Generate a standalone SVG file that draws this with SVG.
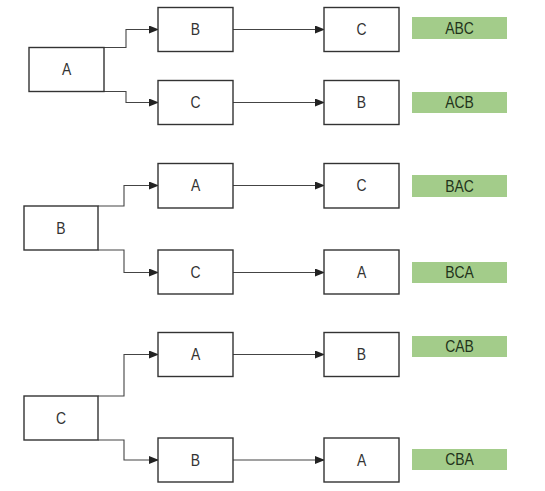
<svg xmlns="http://www.w3.org/2000/svg" width="545" height="491" viewBox="0 0 545 491">
<defs>
<style>
.box{fill:#fff;stroke:#333;stroke-width:1.4}
.lbl{fill:#a3cc8a}
.t,.g{font-family:"Liberation Sans",Arial,sans-serif;font-size:17px;text-anchor:middle;transform-box:fill-box;transform-origin:center;transform:scaleX(0.82)}
.t{fill:#333}
.g{fill:#22331a}
.c{fill:none;stroke:#444;stroke-width:1.1;marker-end:url(#ah)}
</style>
<marker id="ah" markerWidth="10" markerHeight="8" refX="9" refY="4" orient="auto" markerUnits="userSpaceOnUse">
<path d="M0,0 L10,4 L0,8 Z" fill="#222"/>
</marker>
</defs>
<rect width="545" height="491" fill="#fff"/>
<g id="connectors">
<path class="c" d="M104,47.5 H126 V29.5 H158"/>
<path class="c" d="M104,91.5 H126 V102.5 H158"/>
<path class="c" d="M233,29.5 H324"/>
<path class="c" d="M233,102.5 H324"/>
<path class="c" d="M98,206 H124 V185.5 H158"/>
<path class="c" d="M98,250 H124 V272.5 H158"/>
<path class="c" d="M233,185.5 H324"/>
<path class="c" d="M233,272.5 H324"/>
<path class="c" d="M98,396 H124 V354.5 H158"/>
<path class="c" d="M98,440 H124 V460 H158"/>
<path class="c" d="M233,354.5 H324"/>
<path class="c" d="M233,460 H324"/>
</g>
<g id="n1-A"><rect class="box" x="29" y="47.5" width="75" height="44"/><text class="t" x="66.5" y="75.5">A</text></g>
<g id="n1-B"><rect class="box" x="158" y="7.5" width="75" height="44"/><text class="t" x="195.5" y="35.5">B</text></g>
<g id="n1-C"><rect class="box" x="158" y="80.5" width="75" height="44"/><text class="t" x="195.5" y="108.5">C</text></g>
<g id="n1-BC"><rect class="box" x="324" y="7.5" width="75" height="44"/><text class="t" x="361.5" y="35.5">C</text></g>
<g id="n1-CB"><rect class="box" x="324" y="80.5" width="75" height="44"/><text class="t" x="361.5" y="108.5">B</text></g>
<g id="r-ABC"><rect class="lbl" x="412" y="17" width="95" height="22"/><text class="g" x="459.5" y="34">ABC</text></g>
<g id="r-ACB"><rect class="lbl" x="412" y="92" width="95" height="21"/><text class="g" x="459.5" y="108.5">ACB</text></g>

<g id="n2-B"><rect class="box" x="24" y="206" width="74" height="44"/><text class="t" x="61" y="234">B</text></g>
<g id="n2-A"><rect class="box" x="158" y="163.5" width="75" height="44.5"/><text class="t" x="195.5" y="191.5">A</text></g>
<g id="n2-C"><rect class="box" x="158" y="250" width="75" height="44"/><text class="t" x="195.5" y="278">C</text></g>
<g id="n2-AC"><rect class="box" x="324" y="163.5" width="75" height="44.5"/><text class="t" x="361.5" y="191.5">C</text></g>
<g id="n2-CA"><rect class="box" x="324" y="250" width="75" height="44"/><text class="t" x="361.5" y="278">A</text></g>
<g id="r-BAC"><rect class="lbl" x="412" y="175" width="95" height="22"/><text class="g" x="459.5" y="192">BAC</text></g>
<g id="r-BCA"><rect class="lbl" x="412" y="262" width="95" height="21"/><text class="g" x="459.5" y="278.5">BCA</text></g>

<g id="n3-C"><rect class="box" x="24" y="396" width="74" height="44"/><text class="t" x="61" y="424">C</text></g>
<g id="n3-A"><rect class="box" x="158" y="332.5" width="75" height="44"/><text class="t" x="195.5" y="360.5">A</text></g>
<g id="n3-B"><rect class="box" x="158" y="438" width="75" height="44"/><text class="t" x="195.5" y="466">B</text></g>
<g id="n3-AB"><rect class="box" x="324" y="332.5" width="75" height="44"/><text class="t" x="361.5" y="360.5">B</text></g>
<g id="n3-BA"><rect class="box" x="324" y="438" width="75" height="44"/><text class="t" x="361.5" y="466">A</text></g>
<g id="r-CAB"><rect class="lbl" x="412" y="336" width="95" height="21"/><text class="g" x="459.5" y="352.5">CAB</text></g>
<g id="r-CBA"><rect class="lbl" x="412" y="449" width="95" height="21"/><text class="g" x="459.5" y="465.5">CBA</text></g>
</svg>
